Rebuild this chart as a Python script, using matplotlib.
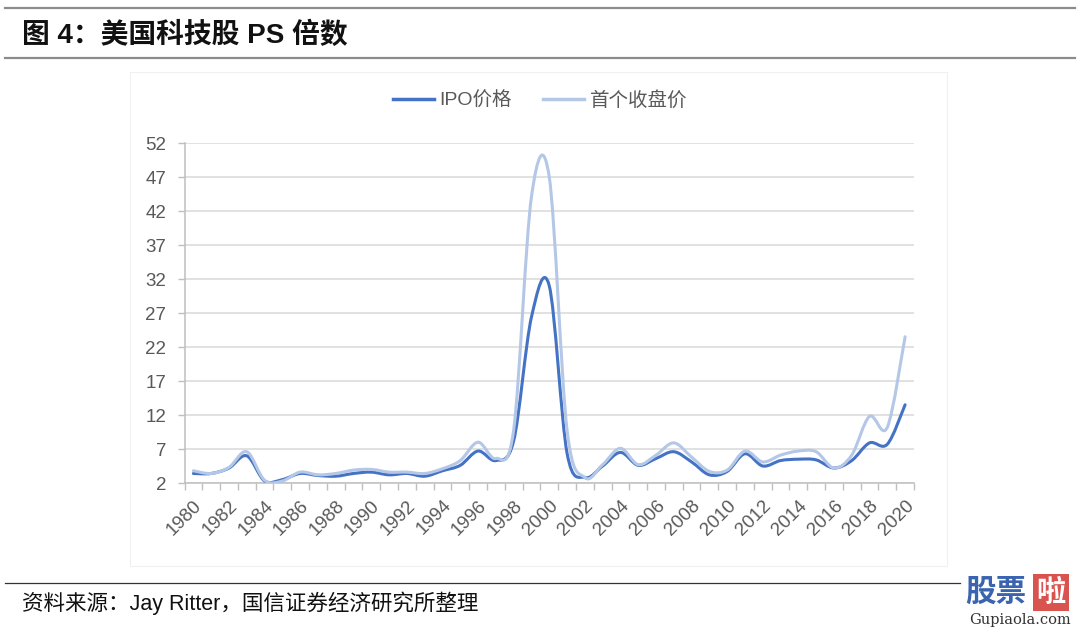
import matplotlib
matplotlib.use('Agg')
import matplotlib.pyplot as plt
from matplotlib.path import Path
from matplotlib.patches import PathPatch, Rectangle
from matplotlib.lines import Line2D
import numpy as np

plt.rcParams['font.family'] = ['Liberation Sans', 'Noto Sans CJK SC']

# data
years = list(range(1980, 2021))
ipo_price = [3.4, 3.4, 4.2, 6.0, 2.3, 2.5, 3.4, 3.1, 3.0, 3.4,
             3.6, 3.2, 3.4, 3.0, 3.8, 4.6, 6.7, 5.3, 8.2, 26.4,
             31.0, 6.4, 2.8, 4.5, 6.5, 4.6, 5.6, 6.6, 5.1, 3.2,
             3.7, 6.3, 4.5, 5.3, 5.5, 5.4, 4.2, 5.3, 7.9, 7.7,
             13.5]
first_close = [3.8, 3.4, 4.3, 6.6, 2.4, 2.3, 3.6, 3.2, 3.4, 3.9,
               4.0, 3.6, 3.6, 3.4, 4.1, 5.3, 8.0, 5.6, 9.8, 44.1,
               47.0, 9.8, 2.8, 4.7, 7.1, 4.7, 6.1, 7.9, 5.8, 3.7,
               3.9, 6.7, 5.1, 6.1, 6.7, 6.6, 4.2, 6.1, 11.8, 10.2,
               23.5]
series_names = ['IPO价格', '首个收盘价']
yticks = list(range(2, 53, 5))

dark = '#4472c4'
light = '#b4c7e7'


def smooth_path(xs, ys):
    # Excel-like smoothed line (Catmull-Rom as cubic bezier)
    pts = np.column_stack([xs, ys]).astype(float)
    n = len(pts)
    verts = [pts[0]]
    codes = [Path.MOVETO]
    for i in range(n - 1):
        p0 = pts[i - 1] if i > 0 else pts[i]
        p1 = pts[i]
        p2 = pts[i + 1]
        p3 = pts[i + 2] if i + 2 < n else pts[i + 1]
        c1 = p1 + (p2 - p0) / 6.0
        c2 = p2 - (p3 - p1) / 6.0
        verts += [c1, c2, p2]
        codes += [Path.CURVE4] * 3
    return Path(verts, codes)


fig = plt.figure(figsize=(10.8, 6.31), dpi=100)

# header / footer rules
fig.add_artist(Line2D([5 / 1080, 1075 / 1080], [1 - 8 / 631] * 2, color='#8c8c8c', lw=1.6))
fig.add_artist(Line2D([5 / 1080, 1075 / 1080], [1 - 58 / 631] * 2, color='#8c8c8c', lw=1.6))
fig.add_artist(Line2D([5 / 1080, 960 / 1080], [1 - 583 / 631] * 2, color='#333333', lw=0.9))

# chart frame
fig.add_artist(Rectangle((130 / 1080, 1 - 566 / 631), 817 / 1080, 494 / 631,
                         fill=False, edgecolor='#f0f0f0', lw=0.8))

fig.text(22 / 1080, 1 - 35 / 631, '图 4：美国科技股 PS 倍数', fontsize=20, fontweight='bold',
         family=['Liberation Sans', 'Noto Sans CJK SC'], va='center', ha='left', color='#111111')
fig.text(22 / 1080, 1 - 603 / 631, '资料来源：Jay Ritter，国信证券经济研究所整理', fontsize=15.5,
         va='center', ha='left', color='#111111')

# watermark
fig.text(965 / 1080, 1 - 592 / 631, '股票', fontsize=22, fontweight='bold', color='#3a63b0',
         family=['Noto Sans CJK SC'], va='center', ha='left')
fig.text(1036 / 1080, 1 - 592 / 631, '啦', fontsize=21, fontweight='bold', color='white',
         family=['Noto Sans CJK SC'], va='center', ha='left',
         bbox=dict(boxstyle='square,pad=0.12', fc='#d9534f', ec='none'))
fig.text(1020 / 1080, 1 - 620 / 631, 'Gupiaola.com', fontsize=10.5, color='#333333',
         family=['DejaVu Serif'], va='center', ha='center')

ax = fig.add_axes([184.5 / 1080, 1 - 483 / 631, 729.5 / 1080, 340 / 631])
x = np.arange(len(years))

ax.add_patch(PathPatch(smooth_path(x, ipo_price), fill=False, edgecolor=dark, lw=2.2,
                       capstyle='round', joinstyle='round', zorder=3))
ax.add_patch(PathPatch(smooth_path(x, first_close), fill=False, edgecolor=light, lw=2.2,
                       capstyle='round', joinstyle='round', zorder=4))

ax.set_xlim(-0.5, len(years) - 0.5)
ax.set_ylim(2, 52)
ax.set_yticks(yticks)
ax.set_yticklabels([str(v) for v in yticks])
ax.grid(axis='y', color='#d9d9d9', lw=1.1)
ax.set_axisbelow(True)

ax.set_xticks(x[::2])
ax.set_xticklabels([str(y) for y in years[::2]], rotation=45, ha='right',
                   rotation_mode='anchor')
ax.set_xticks(np.arange(len(years) + 1) - 0.5, minor=True)
ax.tick_params(axis='x', which='major', length=0, pad=10, labelsize=13.5, labelcolor='#595959')
ax.tick_params(axis='x', which='minor', length=5, color='#bfbfbf', width=1)
ax.tick_params(axis='y', length=5, color='#bfbfbf', width=1, labelsize=13.5,
               labelcolor='#595959', pad=8)

for s in ['top', 'right']:
    ax.spines[s].set_visible(False)
for s in ['left', 'bottom']:
    ax.spines[s].set_color('#bfbfbf')
    ax.spines[s].set_linewidth(1.1)

handles = [Line2D([], [], color=dark, lw=2.5), Line2D([], [], color=light, lw=2.5)]
fig.legend(handles, series_names, loc='center', bbox_to_anchor=(540 / 1080, 1 - 100 / 631),
           ncol=2, frameon=False, fontsize=14, labelcolor='#595959', handlelength=2.1,
           handletextpad=0.3, columnspacing=1.6)

fig.savefig('out.png', dpi=100, facecolor='white')
